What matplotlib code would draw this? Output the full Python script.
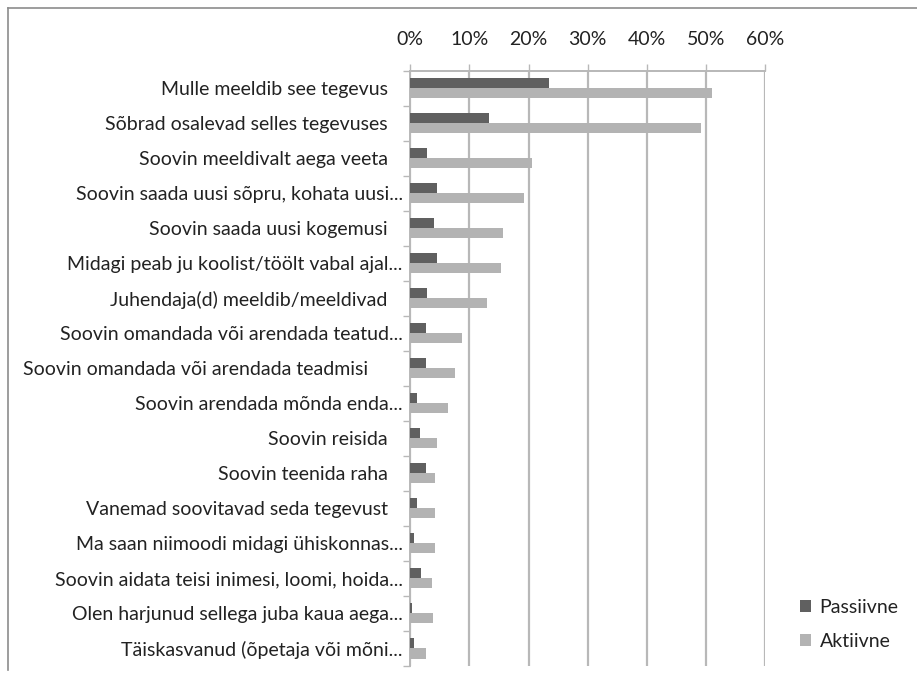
import matplotlib
matplotlib.use('Agg')
from matplotlib import pyplot as plt
from matplotlib.lines import Line2D
from matplotlib.ticker import FixedLocator, PercentFormatter
import numpy as np

plt.rcParams['font.family'] = ['Lato', 'DejaVu Sans']

# labels as in the source sheet (trailing spaces kept)
categories = [
    'Mulle meeldib see tegevus   ',
    'Sõbrad osalevad selles tegevuses   ',
    'Soovin meeldivalt aega veeta   ',
    'Soovin saada uusi sõpru, kohata uusi...',
    'Soovin saada uusi kogemusi   ',
    'Midagi peab ju koolist/töölt vabal ajal...',
    'Juhendaja(d) meeldib/meeldivad   ',
    'Soovin omandada või arendada teatud...',
    'Soovin omandada või arendada teadmisi       ',
    'Soovin arendada mõnda enda...',
    'Soovin reisida   ',
    'Soovin teenida raha   ',
    'Vanemad soovitavad seda tegevust   ',
    'Ma saan niimoodi midagi ühiskonnas...',
    'Soovin aidata teisi inimesi, loomi, hoida...',
    'Olen harjunud sellega juba kaua aega...',
    'Täiskasvanud (õpetaja või mõni...',
]
passiivne = [23.4, 13.3, 2.8, 4.5, 4.0, 4.6, 2.9, 2.7, 2.7, 1.1, 1.6, 2.7, 1.1, 0.7, 1.8, 0.3, 0.7]
aktiivne = [51.0, 49.1, 20.6, 19.2, 15.6, 15.3, 13.0, 8.8, 7.6, 6.4, 4.5, 4.2, 4.2, 4.2, 3.7, 3.8, 2.7]
x_ticks = [0, 10, 20, 30, 40, 50, 60]

dark = '#606060'
light = '#b3b3b3'
grid = '#b8b8b8'
txt = '#222222'
fs = 14

fig = plt.figure(figsize=(9.17, 6.79), dpi=100)
ax = fig.add_axes([410.3 / 917, 1 - 666 / 679, (765 - 410.3) / 917, (666 - 70.7) / 679])

y = np.arange(len(categories))
h = 0.286
ax.barh(y - h / 2, passiivne, height=h, color=dark, label='Passiivne', zorder=3)
ax.barh(y + h / 2, aktiivne, height=h, color=light, label='Aktiivne', zorder=3)

ax.set_xlim(0, 60)
ax.set_ylim(len(categories) - 0.5, -0.5)
ax.xaxis.set_major_locator(FixedLocator(x_ticks))
ax.xaxis.set_major_formatter(PercentFormatter(decimals=0))
ax.xaxis.tick_top()
ax.tick_params(axis='x', direction='out', length=5, width=1, color=grid,
               labelsize=fs, labelcolor=txt, pad=11.5)
ax.grid(axis='x', color=grid, linewidth=1.6, zorder=0)

ax.set_yticks(y)
ax.set_yticklabels(categories)
ax.set_yticks(np.arange(len(categories) + 1) - 0.5, minor=True)
ax.tick_params(axis='y', which='major', length=0, labelsize=fs, labelcolor=txt, pad=5.5)
ax.tick_params(axis='y', which='minor', direction='out', length=5, width=1, color=grid)

for side in ['right', 'bottom']:
    ax.spines[side].set_visible(False)
ax.spines['left'].set_color(grid)
ax.spines['top'].set_color(grid)
ax.spines['left'].set_linewidth(1.4)
ax.spines['top'].set_linewidth(1.4)

leg = fig.legend(loc='upper left', bbox_to_anchor=(800 / 917, 1 - 599 / 679),
                 frameon=False, fontsize=fs, handlelength=0.55, handleheight=0.55,
                 handletextpad=0.45, labelspacing=0.88, borderpad=0, borderaxespad=0)
for t in leg.get_texts():
    t.set_color(txt)

# outer chart border
fig.add_artist(Line2D([8 / 917, 8 / 917], [1 - 670 / 679, 1 - 8 / 679], color='#8c8c8c', lw=1.2))
fig.add_artist(Line2D([8 / 917, 1], [1 - 8 / 679, 1 - 8 / 679], color='#8c8c8c', lw=1.2))

fig.savefig('out.png', dpi=100)
